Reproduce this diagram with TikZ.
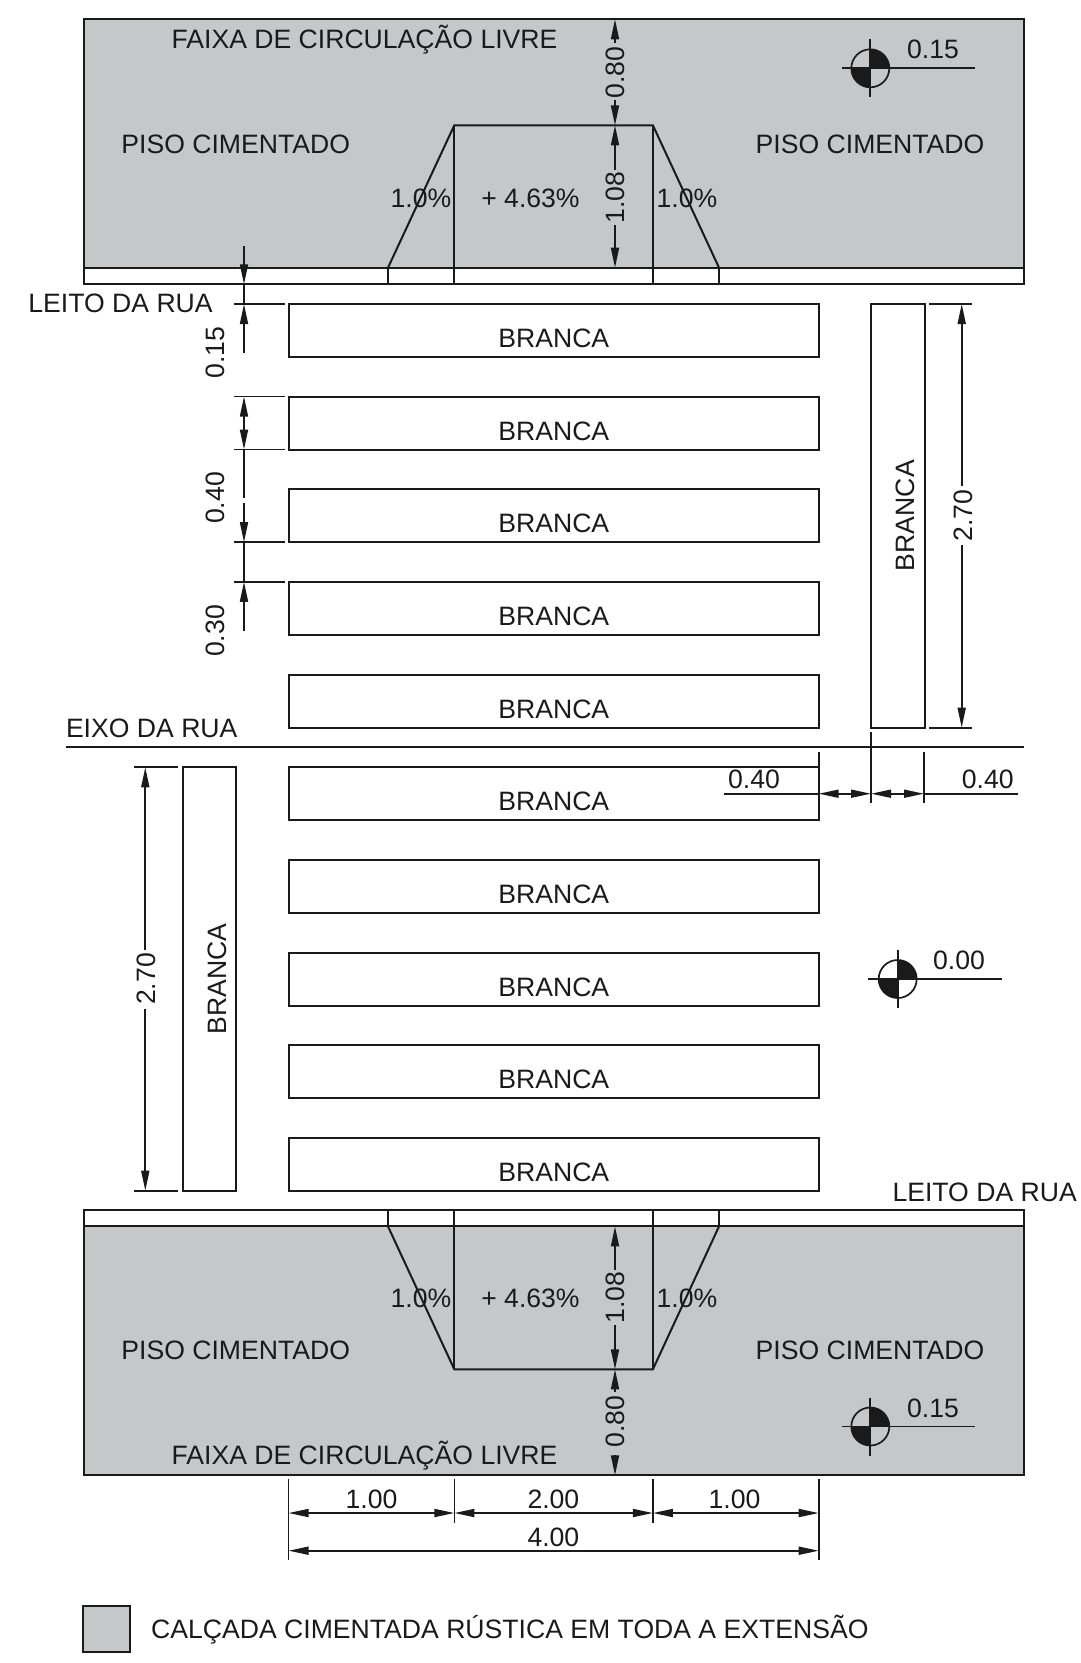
\documentclass[tikz,border=0pt]{standalone}
\usepackage{xcolor}
\usepackage{fontspec}
\setmainfont{Liberation Sans}
\usetikzlibrary{arrows.meta}
\definecolor{pisogray}{HTML}{C6C7C9}
\definecolor{inkblack}{HTML}{1A1A1A}
\tikzset{
    plan/.style={draw=inkblack, line width=2pt},
    edge/.style={draw=inkblack, line width=1.7pt},
    tip/.style={edge, -{Triangle[length=20pt,width=8pt]}},
    tips/.style={edge, {Triangle[length=20pt,width=8pt]}-{Triangle[length=20pt,width=8pt]}},
    txt/.style={inner sep=0pt, text=inkblack, font=\fontsize{26.6}{30}\selectfont, anchor=base},
    vtxt/.style={inner sep=0pt, text=inkblack, font=\fontsize{26.6}{30}\selectfont, anchor=center, rotate=90}
}
% elevation mark: centre x, centre y, line start, line end, label x, label y, value
\newcommand{\nivel}[7]{
    \coordinate (c) at (#1,#2);
    \fill[inkblack] (c) -- ++(19,0) arc[start angle=0, end angle=90, radius=19pt] -- cycle;
    \fill[inkblack] (c) -- ++(-19,0) arc[start angle=180, end angle=270, radius=19pt] -- cycle;
    \draw[edge] (c) circle[radius=19pt];
    \draw[edge] (#3,#2) -- (#4,#2);
    \draw[edge] (#1,#2-29) -- (#1,#2+29);
    \node[txt] at (#5,#6) {#7};
}
\begin{document}
\begin{tikzpicture}[x=1pt, y=-1pt]
    \useasboundingbox (0,0) rectangle (1080,1663);

    % Top sidewalk
    \fill[pisogray] (83.8,19.3) rectangle (1024,267.7);
    \draw[plan] (83.8,19.3) rectangle (1024,284.3);
    \draw[plan] (83.8,267.7) -- (1024,267.7);
    \draw[plan] (388,267.7) -- (454.3,125.3) -- (652.9,125.3) -- (719,267.7);
    \draw[plan] (454.3,125.3) -- (454.3,284.3);
    \draw[plan] (652.9,125.3) -- (652.9,284.3);
    \draw[plan] (388,267.7) -- (388,284.3);
    \draw[plan] (719,267.7) -- (719,284.3);
    \node[txt] (faixaTop) at (364.5,48.3) {FAIXA DE CIRCULAÇÃO LIVRE};
    \node[txt] (pisoTopL) at (235.7,153.8) {PISO CIMENTADO};
    \node[txt] (pisoTopR) at (870,153.8) {PISO CIMENTADO};
    \node[txt] (rampTopL) at (421,207) {1.0\%};
    \node[txt] (rampTopM) at (530.5,207) {+ 4.63\%};
    \node[txt] (rampTopR) at (687,207) {1.0\%};

    % Top sidewalk dimensions
    \draw[tip] (615,43) -- (615,19.3);
    \draw[tip] (615,100) -- (615,125.3);
    \draw[tip] (615,170) -- (615,125.3);
    \draw[tip] (615,225) -- (615,267.7);
    \node[vtxt] (dimTopA) at (615.5,72.7) {0.80};
    \node[vtxt] (dimTopB) at (615.5,197.5) {1.08};
    \nivel{870.3}{68.3}{841.7}{975}{933}{58}{0.15}

    % Stripes
    \foreach \y in {304,396.6,489.2,581.8,674.6,767.3,859.9,952.5,1045.1,1137.7}{
        \draw[plan] (288.6,\y) rectangle (818.6,\y+53);
        \node[txt] at (553.8,\y+43.6) {BRANCA};
    }
    \draw[plan] (871,304) rectangle (924.6,727.7);
    \node[vtxt] (brancaR) at (905,515.6) {BRANCA};
    \draw[plan] (182.5,767.3) rectangle (235.7,1190.7);
    \node[vtxt] (brancaL) at (217.5,979) {BRANCA};

    % Left dimensions
    \foreach \y in {284.3,304,396.6,449.6,542.2,581.8}{
        \draw[edge] (234.3,\y) -- (285,\y);
    }
    \draw[tip] (244,246) -- (244,284.3);
    \draw[tip] (244,353.3) -- (244,304);
    \draw[edge] (244,284.3) -- (244,304);
    \draw[tips] (244,396.6) -- (244,449.6);
    \draw[edge] (244,449.6) -- (244,498);
    \draw[tip] (244,503) -- (244,542.2);
    \draw[edge] (244,542.2) -- (244,581.8);
    \draw[tip] (244,630.7) -- (244,581.8);
    \node[vtxt] (dimA) at (215.5,352.3) {0.15};
    \node[vtxt] (dimB) at (215.5,498) {0.40};
    \node[vtxt] (dimC) at (215.5,631) {0.30};
    \node[txt, anchor=base west] (leitoTop) at (28.2,312.5) {LEITO DA RUA};

    % Right stripe dimension
    \draw[edge] (929,304) -- (972,304);
    \draw[edge] (929,727.7) -- (972,727.7);
    \draw[tip] (961.7,486) -- (961.7,304);
    \draw[tip] (961.7,545) -- (961.7,727.7);
    \node[vtxt] (dimRight) at (963,515.6) {2.70};

    % Street axis
    \draw[plan] (65.8,747.3) -- (1024,747.3);
    \node[txt, anchor=base west] (eixo) at (65.8,737.6) {EIXO DA RUA};
    \draw[edge] (818.7,751.7) -- (818.7,803.3);
    \draw[edge] (871,731.7) -- (871,803.3);
    \draw[edge] (924,751.7) -- (924,803.3);
    \draw[edge] (724.3,793.7) -- (818.7,793.7);
    \draw[tips] (818.7,793.7) -- (871,793.7);
    \draw[tips] (871,793.7) -- (924,793.7);
    \draw[edge] (924,793.7) -- (1018,793.7);
    \node[txt] (gapL) at (754,788.7) {0.40};
    \node[txt] (gapR) at (987.7,788.7) {0.40};
    \nivel{897.7}{979}{868}{1001.7}{959}{969}{0.00}

    % Left stripe dimension
    \draw[edge] (134,767.3) -- (178,767.3);
    \draw[edge] (134,1190.7) -- (178,1190.7);
    \draw[tip] (145.3,950) -- (145.3,767.3);
    \draw[tip] (145.3,1009) -- (145.3,1190.7);
    \node[vtxt] (dimLeft) at (146.4,979) {2.70};

    % Bottom sidewalk
    \fill[pisogray] (83.8,1226.4) rectangle (1024,1475.3);
    \draw[plan] (83.8,1210.3) rectangle (1024,1475.3);
    \draw[plan] (83.8,1226.4) -- (1024,1226.4);
    \draw[plan] (388,1226.4) -- (454.3,1369.3) -- (652.9,1369.3) -- (719,1226.4);
    \draw[plan] (454.3,1210.3) -- (454.3,1369.3);
    \draw[plan] (652.9,1210.3) -- (652.9,1369.3);
    \draw[plan] (388,1210.3) -- (388,1226.4);
    \draw[plan] (719,1210.3) -- (719,1226.4);
    \node[txt, anchor=base east] (leitoBot) at (1077,1201) {LEITO DA RUA};
    \node[txt] (faixaBot) at (364.5,1464.3) {FAIXA DE CIRCULAÇÃO LIVRE};
    \node[txt] (pisoBotL) at (235.7,1359.5) {PISO CIMENTADO};
    \node[txt] (pisoBotR) at (870,1359.5) {PISO CIMENTADO};
    \node[txt] (rampBotL) at (421,1307) {1.0\%};
    \node[txt] (rampBotM) at (530.5,1307) {+ 4.63\%};
    \node[txt] (rampBotR) at (687,1307) {1.0\%};

    % Bottom sidewalk dimensions
    \draw[tip] (615,1270) -- (615,1226.4);
    \draw[tip] (615,1325) -- (615,1369.3);
    \draw[tip] (615,1391.7) -- (615,1369.3);
    \draw[tip] (615,1455) -- (615,1475.3);
    \node[vtxt] (dimBotB) at (615.5,1297.6) {1.08};
    \node[vtxt] (dimBotA) at (615.5,1421.7) {0.80};
    \nivel{870.3}{1426.5}{841.7}{975}{933}{1417}{0.15}

    % Width dimensions
    \draw[edge] (288.6,1479.3) -- (288.6,1560);
    \draw[edge] (454.4,1479.3) -- (454.4,1522.7);
    \draw[edge] (652.9,1479.3) -- (652.9,1522.7);
    \draw[edge] (818.7,1479.3) -- (818.7,1560);
    \draw[tips] (288.6,1513) -- (454.4,1513);
    \draw[tips] (454.4,1513) -- (652.9,1513);
    \draw[tips] (652.9,1513) -- (818.7,1513);
    \draw[tips] (288.6,1550.7) -- (818.7,1550.7);
    \node[txt] (wideA) at (371.5,1508.2) {1.00};
    \node[txt] (wideB) at (553.4,1508.2) {2.00};
    \node[txt] (wideC) at (734.5,1508.2) {1.00};
    \node[txt] (wideAll) at (553.4,1546) {4.00};

    % Legend
    \draw[plan, fill=pisogray] (83,1606) rectangle (130.4,1651.7);
    \node[txt, anchor=base west] (legenda) at (151,1638) {CALÇADA CIMENTADA RÚSTICA EM TODA A EXTENSÃO};
\end{tikzpicture}
\end{document}
